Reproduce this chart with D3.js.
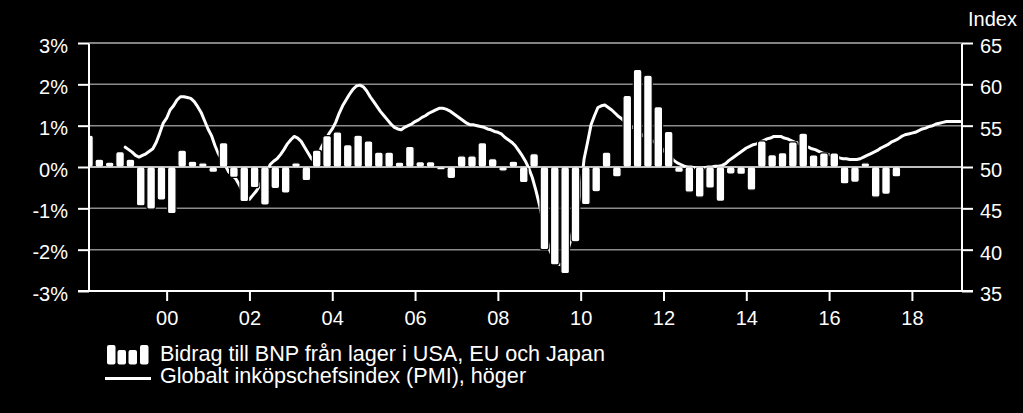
<!DOCTYPE html>
<html>
<head>
<meta charset="utf-8">
<script src="https://cdn.jsdelivr.net/npm/d3@7"></script>
<style>
  html, body { margin: 0; padding: 0; background: #000; }
  svg { display: block; }
  text { font-family: "Liberation Sans", Arial, Helvetica, sans-serif; fill: #fff; }
</style>
</head>
<body>
<svg id="chart" width="1023" height="413"></svg>
<script>
// ---------------- DATA ----------------
// Quarterly bars: contribution to GDP from inventories in USA, EU and Japan (%), starting 1998 Q1
const barStartYear = 1998;
const inventoryContribution = [
  0.77, 0.19, 0.12, 0.37,   0.19, -0.94, -1.02, -0.80,   // 1998, 1999
  -1.13, 0.41, 0.14, 0.10,  -0.13, 0.59, -0.25, -0.84,   // 2000, 2001
  -0.50, -0.92, -0.52, -0.63, 0.10, -0.33, 0.41, 0.76,   // 2002, 2003
  0.85, 0.54, 0.77, 0.63,   0.36, 0.36, 0.12, 0.50,      // 2004, 2005
  0.13, 0.13, -0.07, -0.28, 0.27, 0.27, 0.59, 0.20,      // 2006, 2007
  -0.10, 0.14, -0.38, 0.32, -2.00, -2.37, -2.58, -1.81,  // 2008, 2009
  -0.91, -0.60, 0.36, -0.24, 1.73, 2.36, 2.22, 1.46,     // 2010, 2011
  0.86, -0.13, -0.61, -0.73, -0.51, -0.83, -0.17, -0.18, // 2012, 2013
  -0.56, 0.63, 0.30, 0.35,  0.61, 0.82, 0.29, 0.34,      // 2014, 2015
  0.34, -0.41, -0.37, 0.10, -0.73, -0.66, -0.24          // 2016, 2017 Q1-Q3
];

// Monthly global PMI (index, right axis), starting January 1999
const pmiStartYear = 1999;
const pmiValues = [
  52.4, 52.1, 51.8, 51.4, 51.2, 51.4, 51.6, 51.9, 52.2, 53.0, 54.1, 55.3, // 1999
  55.9, 56.9, 57.4, 58.1, 58.5, 58.5, 58.4, 58.3, 57.9, 57.3, 56.6, 55.6, // 2000
  54.6, 53.8, 52.6, 51.6, 50.9, 50.2, 49.4, 49.0, 48.6, 47.9, 47.0, 46.3, // 2001
  46.1, 46.6, 47.1, 47.8, 48.6, 49.4, 50.3, 50.7, 51.0, 51.5, 52.1, 52.8, // 2002
  53.3, 53.7, 53.5, 53.1, 52.4, 51.7, 51.0, 50.6, 51.6, 52.5, 53.3, 54.0, // 2003
  54.6, 55.4, 56.5, 57.4, 58.1, 58.8, 59.4, 59.8, 59.9, 59.7, 59.2, 58.5, // 2004
  57.9, 57.3, 56.7, 56.2, 55.7, 55.2, 54.8, 54.6, 54.5, 54.8, 55.0, 55.2, // 2005
  55.5, 55.7, 56.0, 56.2, 56.5, 56.7, 56.9, 57.1, 57.1, 57.0, 56.8, 56.5, // 2006
  56.2, 55.9, 55.6, 55.3, 55.1, 55.1, 55.0, 54.9, 54.8, 54.6, 54.5, 54.3, // 2007
  54.2, 54.0, 53.6, 53.3, 53.0, 52.6, 52.0, 51.4, 50.7, 49.8, 48.7, 47.2, // 2008
  45.5, 43.6, 41.5, 40.0, 39.0, 38.4, 38.2, 38.1, 39.5, 41.0, 42.8, 44.7, // 2009
  47.3, 51.0, 53.0, 55.1, 56.2, 57.2, 57.4, 57.5, 57.2, 56.9, 56.5, 56.1, // 2010
  55.8, 55.4, 55.1, 54.8, 54.6, 54.2, 53.8, 53.5, 53.3, 53.1, 52.9, 52.5, // 2011
  52.0, 51.6, 51.2, 50.8, 50.5, 50.3, 50.1, 50.0, 50.0, 49.9, 49.9, 49.9, // 2012
  49.9, 50.0, 50.0, 50.1, 50.1, 50.2, 50.4, 50.8, 51.1, 51.4, 51.7, 52.0, // 2013
  52.3, 52.5, 52.7, 52.8, 53.0, 53.2, 53.4, 53.5, 53.7, 53.7, 53.7, 53.5, // 2014
  53.4, 53.2, 53.0, 52.9, 52.7, 52.5, 52.4, 52.2, 52.1, 51.9, 51.7, 51.6, // 2015
  51.5, 51.4, 51.3, 51.1, 51.0, 51.0, 50.9, 50.9, 50.9, 51.0, 51.2, 51.4, // 2016
  51.6, 51.8, 52.0, 52.3, 52.5, 52.7, 53.0, 53.2, 53.4, 53.7, 53.9, 54.0, // 2017
  54.1, 54.2, 54.4, 54.6, 54.7, 54.9, 55.0, 55.2, 55.3, 55.4, 55.5, 55.5, // 2018
  55.5, 55.5, 55.5                                                        // 2019
];

const xTickYears = [2000, 2002, 2004, 2006, 2008, 2010, 2012, 2014, 2016, 2018];
const leftTicks = [-3, -2, -1, 0, 1, 2, 3];
const rightTicks = [35, 40, 45, 50, 55, 60, 65];
const legendLabels = [
  "Bidrag till BNP från lager i USA, EU och Japan",
  "Globalt inköpschefsindex (PMI), höger"
];
const rightAxisTitle = "Index";

// ---------------- LAYOUT ----------------
const svg = d3.select("#chart");
const plot = { left: 89, right: 962, top: 43, bottom: 291 };

const x = d3.scaleLinear().domain([1998.125, 2019.21]).range([plot.left, plot.right]);
const yL = d3.scaleLinear().domain([-3, 3]).range([plot.bottom, plot.top]);
const yR = d3.scaleLinear().domain([35, 65]).range([plot.bottom, plot.top]);

const bars = inventoryContribution.map((v, i) => ({ t: barStartYear + i / 4 + 0.125, v }));
const pmi = pmiValues.map((v, i) => ({ t: pmiStartYear + i / 12, v }));

// clip
svg.append("defs").append("clipPath").attr("id", "plotclip")
  .append("rect").attr("x", plot.left).attr("y", plot.top - 5)
  .attr("width", plot.right - plot.left).attr("height", plot.bottom - plot.top + 10);

// gridlines
svg.append("g").selectAll("line").data(leftTicks.filter(d => d !== -3 && d !== 0)).join("line")
  .attr("x1", plot.left).attr("x2", plot.right)
  .attr("y1", d => yL(d)).attr("y2", d => yL(d))
  .attr("stroke", "#8c8c8c").attr("stroke-width", 1.5);

// PMI line
svg.append("path").datum(pmi)
  .attr("clip-path", "url(#plotclip)")
  .attr("fill", "none").attr("stroke", "#fff").attr("stroke-width", 3)
  .attr("stroke-linejoin", "round").attr("stroke-linecap", "round")
  .attr("d", d3.line().x(d => x(d.t)).y(d => yR(d.v)));

// bars
const barW = 8.6;
svg.append("g").attr("clip-path", "url(#plotclip)")
  .selectAll("rect").data(bars).join("rect")
  .attr("x", d => x(d.t) - barW / 2)
  .attr("width", barW)
  .attr("y", d => Math.min(yL(d.v), yL(0)))
  .attr("height", d => Math.abs(yL(d.v) - yL(0)))
  .attr("rx", 2.2).attr("ry", 2.2)
  .attr("fill", "#fff").attr("stroke", "#000").attr("stroke-width", 1.2);

// zero line
svg.append("line")
  .attr("x1", plot.left).attr("x2", plot.right)
  .attr("y1", yL(0)).attr("y2", yL(0))
  .attr("stroke", "#fff").attr("stroke-width", 1.5);

// axes
const leftAxis = d3.axisLeft(yL).tickValues(leftTicks).tickSize(11).tickPadding(10)
  .tickFormat(d => d + "%");
const gL = svg.append("g").attr("transform", `translate(${plot.left},0)`).call(leftAxis);

const rightAxis = d3.axisRight(yR).tickValues(rightTicks).tickSize(11).tickPadding(7);
const gR = svg.append("g").attr("transform", `translate(${plot.right},0)`).call(rightAxis);

const bottomAxis = d3.axisBottom(x).tickValues(xTickYears).tickSize(10).tickPadding(10)
  .tickFormat(d => String(d).slice(2));
const gB = svg.append("g").attr("transform", `translate(0,${plot.bottom})`).call(bottomAxis);

[gL, gR, gB].forEach(g => {
  g.select(".domain").remove();
  g.selectAll(".tick line").attr("stroke", "#fff").attr("stroke-width", 2);
  g.selectAll(".tick text").attr("fill", "#fff").style("font-size", "20px");
});
gL.selectAll(".tick text").attr("dy", "0.45em");
gR.selectAll(".tick text").attr("dy", "0.47em");
gB.selectAll(".tick text").attr("dy", "0.71em");

// axis lines
svg.append("line").attr("x1", plot.left).attr("x2", plot.left)
  .attr("y1", plot.top).attr("y2", plot.bottom).attr("stroke", "#fff").attr("stroke-width", 2);
svg.append("line").attr("x1", plot.right).attr("x2", plot.right)
  .attr("y1", plot.top).attr("y2", plot.bottom).attr("stroke", "#fff").attr("stroke-width", 2);
svg.append("line").attr("x1", plot.left - 11).attr("x2", plot.right + 11)
  .attr("y1", plot.bottom).attr("y2", plot.bottom).attr("stroke", "#fff").attr("stroke-width", 2);
svg.append("line").attr("x1", plot.left).attr("x2", plot.right)
  .attr("y1", plot.top).attr("y2", plot.top).attr("stroke", "#8c8c8c").attr("stroke-width", 1.5);

// right axis title
svg.append("text").attr("x", 968).attr("y", 26).style("font-size", "20px").text(rightAxisTitle);

// legend
const lg = svg.append("g");
const iconBars = [
  { x: 107, top: 345 }, { x: 117.5, top: 350 }, { x: 128.5, top: 350 }, { x: 140, top: 345 }
];
lg.selectAll("rect").data(iconBars).join("rect")
  .attr("x", d => d.x).attr("y", d => d.top)
  .attr("width", 8.5).attr("height", d => 364.5 - d.top)
  .attr("rx", 2).attr("fill", "#fff");
lg.append("line").attr("x1", 105).attr("x2", 151).attr("y1", 378.5).attr("y2", 378.5)
  .attr("stroke", "#fff").attr("stroke-width", 3);
lg.selectAll("text").data(legendLabels).join("text")
  .attr("x", 160).attr("y", (d, i) => 360.5 + i * 22.7)
  .style("font-size", "21.6px").text(d => d);
</script>
</body>
</html>
